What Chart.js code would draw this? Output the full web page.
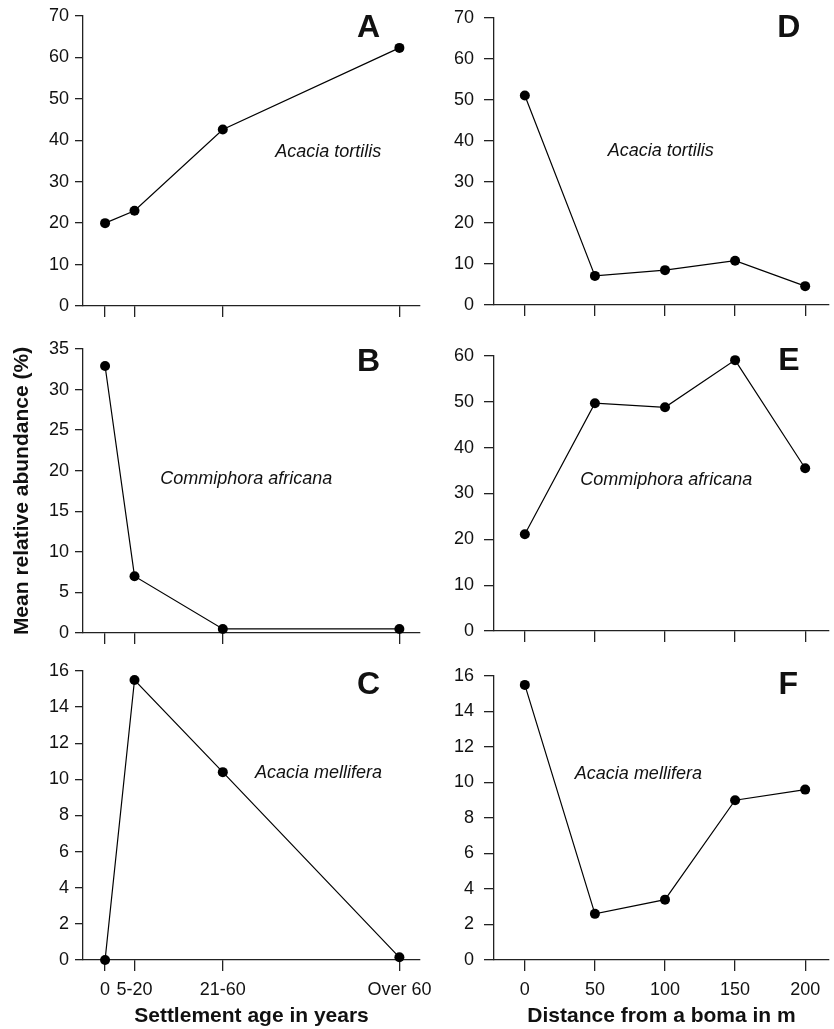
<!DOCTYPE html>
<html>
<head>
<meta charset="utf-8">
<script src="https://cdn.jsdelivr.net/npm/chart.js@4.4.1/dist/chart.umd.min.js"></script>
<style>
  html, body { margin: 0; padding: 0; background: #fff; }
  body { width: 834px; height: 1029px; position: relative; overflow: hidden; }
  canvas { position: absolute; }
</style>
</head>
<body>
<canvas id="chartA" width="450" height="325" style="left:0;top:0"></canvas>
<canvas id="chartB" width="450" height="325" style="left:0;top:325px"></canvas>
<canvas id="chartC" width="450" height="379" style="left:0;top:650px"></canvas>
<canvas id="chartD" width="414" height="325" style="left:420px;top:0"></canvas>
<canvas id="chartE" width="414" height="325" style="left:420px;top:325px"></canvas>
<canvas id="chartF" width="414" height="379" style="left:420px;top:650px"></canvas>
<script>
// settlement age classes (left column) and their place along the axis
const ageLabels = ["0", "5-20", "21-60", "Over 60"];
const agePositions = [0, 10, 40, 100];
// distance from a boma (right column)
const distances = [0, 50, 100, 150, 200];

// mean relative abundance (%)
const ageTortilis = [20.0, 23.0, 42.6, 62.3];
const ageCommiphora = [32.9, 7.0, 0.5, 0.5];
const ageMellifera = [0, 15.5, 10.4, 0.15];
const bomaTortilis = [51.1, 7.1, 8.5, 10.8, 4.6];
const bomaCommiphora = [21.1, 49.7, 48.8, 59.1, 35.5];
const bomaMellifera = [15.5, 2.6, 3.4, 9.0, 9.6];

const FONT = '"Liberation Sans", Arial, Helvetica, sans-serif';
const INK = "#111";

// letter + species name, placed in data coordinates
const panelText = {
  id: "panelText",
  afterDatasetsDraw(chart, args, opts) {
    const { ctx } = chart;
    const x = chart.scales.x, y = chart.scales.y;
    ctx.save();
    ctx.fillStyle = INK;
    ctx.textAlign = "center";
    ctx.textBaseline = "middle";
    ctx.font = "bold 32px " + FONT;
    ctx.fillText(opts.letter, x.getPixelForValue(opts.letterAt[0]), y.getPixelForValue(opts.letterAt[1]));
    ctx.font = "italic 18px " + FONT;
    ctx.fillText(opts.species, x.getPixelForValue(opts.speciesAt[0]), y.getPixelForValue(opts.speciesAt[1]));
    ctx.restore();
  }
};

function makePanel(p) {
  const left = p.side === "left";
  const xValues = left ? agePositions : distances;
  new Chart(document.getElementById(p.id), {
    type: "line",
    data: {
      datasets: [{
        data: xValues.map((v, i) => ({ x: v, y: p.values[i] })),
        borderColor: "#000",
        borderWidth: 1.2,
        backgroundColor: "#000",
        pointBackgroundColor: "#000",
        pointBorderWidth: 0,
        pointRadius: 5,
        tension: 0,
        clip: false
      }]
    },
    plugins: [panelText],
    options: {
      responsive: false,
      animation: false,
      events: [],
      layout: { padding: { top: p.padTop, right: left ? 30 : 0, left: 0, bottom: 0 } },
      plugins: {
        legend: { display: false },
        tooltip: { enabled: false },
        panelText: { letter: p.letter, letterAt: p.letterAt, species: p.species, speciesAt: p.speciesAt }
      },
      scales: {
        x: {
          type: "linear",
          min: left ? -7.5 : -22,
          max: left ? 107 : 217,
          afterBuildTicks: (s) => { s.ticks = xValues.map((v) => ({ value: v })); },
          afterFit: (s) => {
            s.height = p.xHeight;
            s.paddingLeft = 0; s.paddingRight = 0;
          },
          grid: { display: true, drawOnChartArea: false, drawTicks: true, tickLength: 11, color: "#222", lineWidth: 1.3 },
          border: { display: true, color: "#222", width: 1.3 },
          ticks: {
            display: !!p.xTitle,
            maxRotation: 0,
            autoSkip: false,
            padding: 8,
            color: INK,
            font: { family: FONT, size: 18 },
            callback: (v) => left ? (ageLabels[agePositions.indexOf(v)] ?? "") : String(v)
          },
          title: {
            display: !!p.xTitle,
            text: p.xTitle || "",
            color: INK,
            font: { family: FONT, size: 21, weight: "bold" },
            padding: { top: 0, bottom: 0 }
          }
        },
        y: {
          min: 0,
          max: p.yMax,
          afterFit: (s) => {
            s.width = p.yWidth;
            s.paddingTop = 0; s.paddingBottom = 0;
          },
          grid: { display: true, drawOnChartArea: false, drawTicks: true, tickLength: left ? 8 : 10, color: "#222", lineWidth: 1.3 },
          border: { display: true, color: "#222", width: 1.3 },
          ticks: {
            stepSize: p.yStep,
            padding: left ? 6 : 10,
            color: INK,
            font: { family: FONT, size: 18 }
          },
          title: {
            display: !!p.yTitle,
            text: p.yTitle || "",
            color: INK,
            font: { family: FONT, size: 21, weight: "bold" },
            padding: { top: 10, bottom: 0 }
          }
        }
      }
    }
  });
}

makePanel({ id: "chartA", side: "left", values: ageTortilis, yMax: 70, yStep: 10,
  padTop: 16, yWidth: 83, xHeight: 19,
  letter: "A", letterAt: [89.5, 67], species: "Acacia tortilis", speciesAt: [75.8, 37.1] });
makePanel({ id: "chartB", side: "left", values: ageCommiphora, yMax: 35, yStep: 5,
  padTop: 24, yWidth: 83, xHeight: 17, yTitle: "Mean relative abundance (%)",
  letter: "B", letterAt: [89.5, 33.4], species: "Commiphora africana", speciesAt: [48, 19.0] });
makePanel({ id: "chartC", side: "left", values: ageMellifera, yMax: 16, yStep: 2,
  padTop: 21, yWidth: 83, xHeight: 69, xTitle: "Settlement age in years",
  letter: "C", letterAt: [89.5, 15.2], species: "Acacia mellifera", speciesAt: [72.5, 10.35] });
makePanel({ id: "chartD", side: "right", values: bomaTortilis, yMax: 70, yStep: 10,
  padTop: 18, yWidth: 74, xHeight: 20,
  letter: "D", letterAt: [188.4, 67.5], species: "Acacia tortilis", speciesAt: [97, 37.6] });
makePanel({ id: "chartE", side: "right", values: bomaCommiphora, yMax: 60, yStep: 10,
  padTop: 31, yWidth: 74, xHeight: 19,
  letter: "E", letterAt: [188.4, 58.9], species: "Commiphora africana", speciesAt: [100.9, 32.9] });
makePanel({ id: "chartF", side: "right", values: bomaMellifera, yMax: 16, yStep: 2,
  padTop: 26, yWidth: 74, xHeight: 69, xTitle: "Distance from a boma in m",
  letter: "F", letterAt: [188, 15.5], species: "Acacia mellifera", speciesAt: [81, 10.5] });
</script>
</body>
</html>
